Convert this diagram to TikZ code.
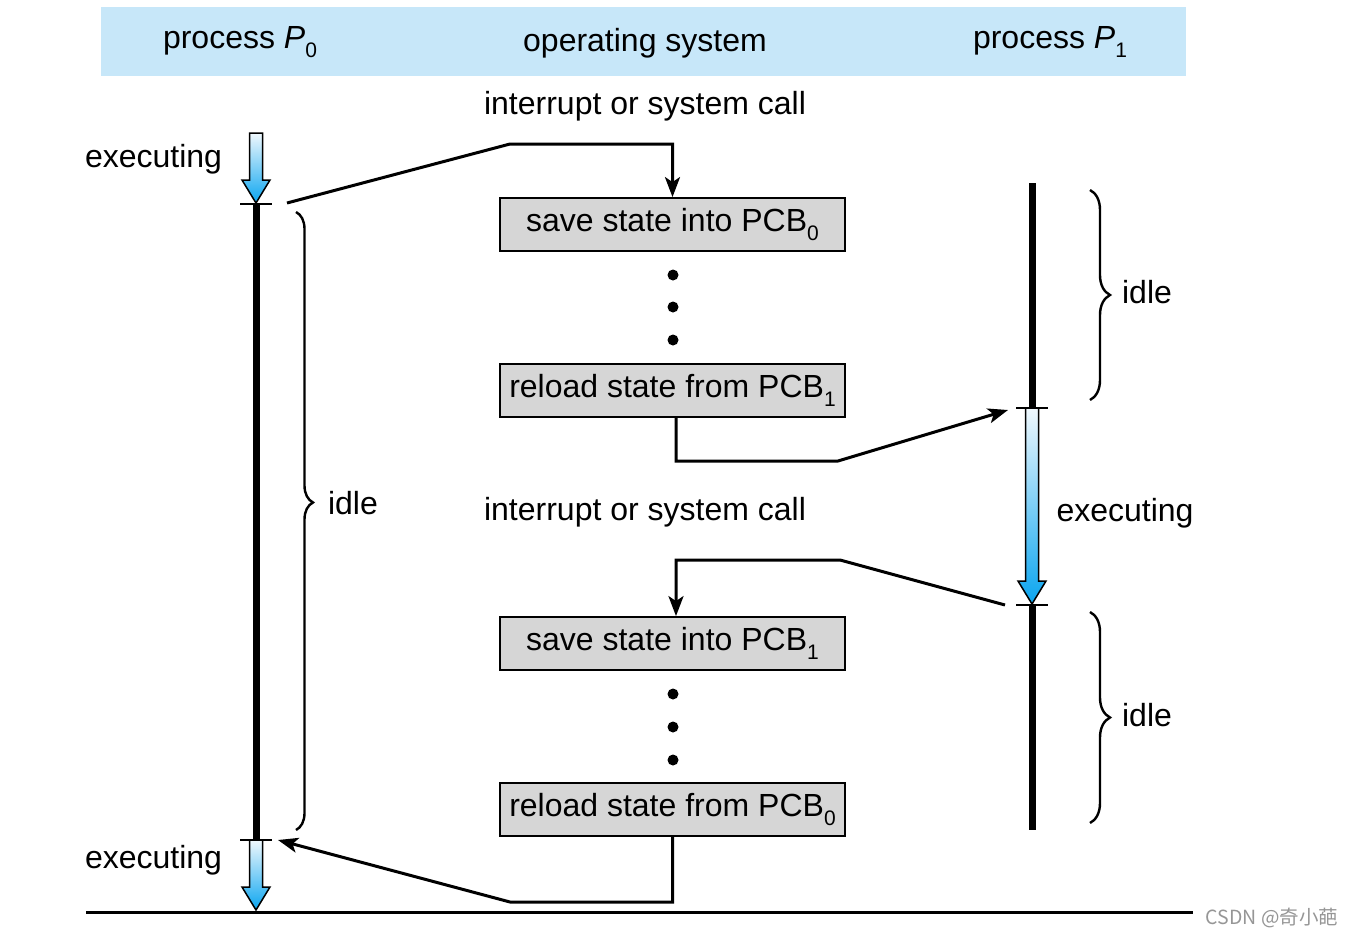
\documentclass[tikz,border=0pt]{standalone}
\usepackage{fontspec}
\setmainfont{Liberation Sans}
\newfontfamily\cjk{Noto Sans CJK SC}
\usetikzlibrary{arrows.meta,decorations.pathreplacing}
\definecolor{hdr}{RGB}{199,231,249}
\definecolor{boxfill}{RGB}{214,214,214}
\definecolor{arrtop}{RGB}{240,248,253}
\definecolor{arrbot}{RGB}{10,165,240}
\definecolor{wm}{RGB}{150,150,150}
\newcommand\sbs[1]{\raisebox{-0.3em}{\fontsize{21}{21}\selectfont #1}}
\newcommand\blarrow[3]{%
  \shade[top color=arrtop,bottom color=arrbot,draw=black,line width=1.5pt,line join=miter]
   ({#1-6.5},#2) -- ({#1+6.5},#2) -- ({#1+6.5},{#3-23}) -- ({#1+14},{#3-23}) -- (#1,#3)
   -- ({#1-14},{#3-23}) -- ({#1-6.5},{#3-23}) -- cycle;}
\begin{document}
\begin{tikzpicture}[x=1pt,y=-1pt,font=\fontsize{32}{38}\selectfont,
  lbl/.style={inner sep=0pt,anchor=center},
  pcb/.style={draw,line width=1.8pt,fill=boxfill,minimum width=345pt,minimum height=53pt,inner sep=0pt},
  conn/.style={line width=3pt,-{Stealth[length=20pt,width=15pt,inset=5pt]}},
  thickline/.style={line width=7pt},
  tick/.style={line width=1.8pt},
  dot/.style={circle,fill=black,inner sep=0pt,minimum size=11pt},
  brc/.style={line width=2.4pt,decorate,decoration={brace,amplitude=#1}},
  brc/.default=20pt]
\useasboundingbox (0,0) rectangle (1353,937);
\fill[white] (0,0) rectangle (1353,937);
% header
\fill[hdr] (101,7) rectangle (1186,76);
\node[lbl] (h0) at (240,42) {process \textit{P}\sbs{0}};
\node[lbl] (hos) at (645,43) {operating system};
\node[lbl] (h1) at (1050,42) {process \textit{P}\sbs{1}};
% labels
\node[lbl] (int1) at (645,106) {interrupt or system call};
\node[lbl] (int2) at (645,512) {interrupt or system call};
\node[lbl] (ex0a) at (153.5,159) {executing};
\node[lbl] (ex0b) at (153.5,860) {executing};
\node[lbl] (ex1) at (1125,513) {executing};
\node[lbl] (idl0) at (353,503) {idle};
\node[lbl] (idl1) at (1147,292) {idle};
\node[lbl] (idl2) at (1147,715) {idle};
% boxes
\node[pcb] (sv0) at (672.5,224.5) {save state into PCB\sbs{0}};
\node[pcb] (rl1) at (672.5,390.5) {reload state from PCB\sbs{1}};
\node[pcb] (sv1) at (672.5,643.5) {save state into PCB\sbs{1}};
\node[pcb] (rl0) at (672.5,809.5) {reload state from PCB\sbs{0}};
\node[dot] (d1) at (673,275) {};
\node[dot] (d2) at (673,307) {};
\node[dot] (d3) at (673,340) {};
\node[dot] (d4) at (673,694) {};
\node[dot] (d5) at (673,727) {};
\node[dot] (d6) at (673,760) {};
% P0 timeline
\draw[thickline] (256,204) -- (256,840);
\blarrow{256}{133}{203}
\blarrow{256}{840}{910}
\draw[tick] (240,204) -- (272,204);
\draw[tick] (240,840) -- (272,840);
% P1 timeline
\draw[thickline] (1032,183) -- (1032,408);
\draw[thickline] (1032,605) -- (1032,830);
\blarrow{1032}{408}{604}
\draw[tick] (1016,408) -- (1048,408);
\draw[tick] (1016,605) -- (1048,605);
% baseline
\draw[line width=3pt] (86,912) -- (1193,912);
% braces
\draw[brc=17pt,decoration={aspect=0.47}] (296,212) -- (296,830);
\draw[brc] (1090,190) -- (1090,400);
\draw[brc] (1090,612) -- (1090,823);
% connectors
\coordinate (c1) at (287,203);
\coordinate (c2) at (1008,410);
\coordinate (c3) at (1005,605);
\coordinate (c4) at (278,840);
\draw[conn] (c1) -- (510,144) -| (sv0);
\draw[conn] ([xshift=3.5pt]rl1.south) |- (838,461) -- (c2);
\draw[conn] (c3) -- (840,560) -| ([xshift=3.5pt]sv1.north);
\draw[conn] (rl0.south) |- (510,902) -- (c4);
% watermark
\node[lbl,text=wm,font=\cjk\fontsize{19.5}{21}\selectfont] (wmk) at (1272,918) {CSDN @奇小葩};
\end{tikzpicture}
\end{document}
